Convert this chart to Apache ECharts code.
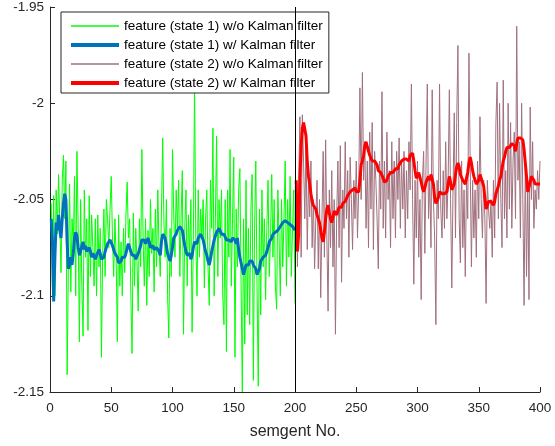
<!DOCTYPE html>
<html>
<head>
<meta charset="utf-8">
<script src="https://cdn.jsdelivr.net/npm/echarts@6/dist/echarts.min.js"></script>
<style>
  html, body { margin: 0; padding: 0; background: #fff; }
  #main { width: 555px; height: 446px; }
</style>
</head>
<body>
<div id="main"></div>
<script>
// feature (state 1) w/o Kalman filter, segments 1..200
var rawState1 = [
  -2.052, -2.095, -2.048, -2.100, -2.045, -2.068, -2.037, -2.062, -2.088, -2.040,
  -2.027, -2.060, -2.030, -2.141, -2.085, -2.042, -2.098, -2.060, -2.075, -2.038,
  -2.100, -2.025, -2.065, -2.124, -2.050, -2.095, -2.121, -2.045, -2.080, -2.060,
  -2.118, -2.048, -2.090, -2.058, -2.075, -2.095, -2.060, -2.100, -2.058, -2.085,
  -2.065, -2.132, -2.078, -2.055, -2.090, -2.050, -2.060, -2.075, -2.055, -2.038,
  -2.070, -2.090, -2.060, -2.080, -2.124, -2.058, -2.095, -2.072, -2.100, -2.065,
  -2.088, -2.058, -2.041, -2.070, -2.060, -2.100, -2.130, -2.057, -2.095, -2.065,
  -2.082, -2.108, -2.060, -2.085, -2.024, -2.070, -2.095, -2.060, -2.105, -2.066,
  -2.090, -2.050, -2.078, -2.065, -2.098, -2.055, -2.085, -2.045, -2.075, -2.090,
  -2.055, -2.018, -2.062, -2.080, -2.050, -2.100, -2.122, -2.065, -2.090, -2.024,
  -2.058, -2.080, -2.045, -2.065, -2.040, -2.090, -2.060, -2.035, -2.120, -2.065,
  -2.045, -2.095, -2.058, -2.080, -2.050, -2.119, -2.072, -1.990, -2.070, -2.100,
  -2.045, -2.080, -2.055, -2.070, -2.050, -2.096, -2.060, -2.045, -2.085, -2.105,
  -2.040, -2.065, -2.013, -2.100, -2.060, -2.017, -2.090, -2.050, -2.070, -2.045,
  -2.100, -2.115, -2.050, -2.129, -2.045, -2.080, -2.024, -2.095, -2.060, -2.028,
  -2.132, -2.055, -2.085, -2.045, -2.034, -2.095, -2.150, -2.060, -2.125, -2.040,
  -2.110, -2.065, -2.115, -2.055, -2.037, -2.144, -2.065, -2.030, -2.095, -2.147,
  -2.055, -2.110, -2.045, -2.085, -2.060, -2.102, -2.065, -2.040, -2.090, -2.070,
  -2.037, -2.080, -2.050, -2.095, -2.107, -2.045, -2.070, -2.100, -2.050, -2.085,
  -2.060, -2.030, -2.095, -2.050, -2.080, -2.038, -2.090, -2.065, -2.045, -2.104
];

// feature (state 1) w/ Kalman filter, segments 1..200
var kalmanState1 = [
  -2.060, -2.072, -2.103, -2.080, -2.062, -2.066, -2.058, -2.066, -2.070, -2.060,
  -2.052, -2.047, -2.050, -2.072, -2.086, -2.084, -2.080, -2.084, -2.078, -2.070,
  -2.067, -2.069, -2.075, -2.079, -2.077, -2.074, -2.072, -2.076, -2.074, -2.077,
  -2.078, -2.075, -2.077, -2.080, -2.078, -2.079, -2.081, -2.079, -2.078, -2.076,
  -2.078, -2.081, -2.082, -2.080, -2.077, -2.075, -2.073, -2.072, -2.071, -2.072,
  -2.074, -2.076, -2.078, -2.077, -2.080, -2.083, -2.084, -2.082, -2.080, -2.079,
  -2.080, -2.078, -2.075, -2.073, -2.074, -2.077, -2.079, -2.078, -2.079, -2.081,
  -2.080, -2.078, -2.077, -2.074, -2.071, -2.070, -2.071, -2.073, -2.072, -2.070,
  -2.072, -2.075, -2.074, -2.074, -2.076, -2.076, -2.075, -2.075, -2.077, -2.079,
  -2.072, -2.068, -2.067, -2.070, -2.074, -2.078, -2.080, -2.082, -2.079, -2.075,
  -2.070, -2.069, -2.068, -2.066, -2.066, -2.064, -2.063, -2.066, -2.070, -2.074,
  -2.077, -2.079, -2.080, -2.078, -2.081, -2.079, -2.075, -2.072, -2.071, -2.073,
  -2.070, -2.069, -2.068, -2.069, -2.071, -2.074, -2.077, -2.079, -2.082, -2.084,
  -2.081, -2.077, -2.074, -2.071, -2.069, -2.067, -2.066, -2.065, -2.066, -2.068,
  -2.069, -2.068, -2.069, -2.071, -2.070, -2.071, -2.070, -2.072, -2.070, -2.069,
  -2.071, -2.073, -2.070, -2.076, -2.080, -2.083, -2.086, -2.089, -2.088, -2.084,
  -2.083, -2.084, -2.082, -2.081, -2.082, -2.084, -2.083, -2.086, -2.089, -2.090,
  -2.086, -2.082, -2.081, -2.080, -2.080, -2.079, -2.077, -2.075, -2.072, -2.071,
  -2.070, -2.068, -2.068, -2.067, -2.066, -2.066, -2.065, -2.064, -2.063, -2.062,
  -2.062, -2.061, -2.060, -2.062, -2.061, -2.063, -2.062, -2.064, -2.065, -2.066
];

// feature (state 2) w/o Kalman filter, segments 201..400
var rawState2 = [
  -2.045, -2.085, -2.040, -2.007, -2.080, -2.006, -2.030, -2.060, -2.020, -2.076,
  -2.040, -2.059, -2.030, -2.075, -2.050, -2.086, -2.060, -2.040, -2.086, -2.050,
  -2.101, -2.060, -2.025, -2.080, -2.019, -2.070, -2.108, -2.045, -2.075, -2.035,
  -2.085, -2.050, -2.120, -2.060, -2.030, -2.075, -2.022, -2.093, -2.045, -2.065,
  -2.020, -2.060, -2.035, -2.080, -2.028, -2.050, -2.076, -2.040, -2.060, -2.030,
  -2.070, -2.045, -1.992, -2.050, -1.984, -2.040, -2.020, -2.065, -2.030, -2.075,
  -2.015, -2.055, -2.010, -2.076, -2.025, -2.040, -2.060, -2.086, -2.030, -2.055,
  -1.994, -2.065, -2.030, -2.070, -2.015, -2.050, -2.035, -2.075, -2.020, -2.060,
  -2.030, -2.070, -2.025, -2.050, -2.018, -2.065, -2.030, -2.055, -2.025, -2.070,
  -2.035, -2.060, -2.020, -2.045, -1.990, -2.050, -2.094, -2.040, -2.070, -2.030,
  -2.080, -2.050, -2.102, -2.040, -2.025, -2.078, -2.030, -1.990, -2.060, -2.040,
  -2.075, -1.993, -2.050, -2.070, -2.115, -2.040, -2.060, -1.990, -2.055, -2.070,
  -2.035, -2.065, -2.020, -2.060, -2.040, -1.993, -2.050, -2.096, -2.045, -2.005,
  -2.070, -2.010, -1.970, -2.060, -2.083, -2.030, -2.075, -2.045, -2.090, -2.040,
  -2.060, -1.974, -2.030, -2.085, -2.040, -2.070, -2.045, -2.080, -2.030, -2.060,
  -2.007, -2.050, -2.070, -2.040, -2.060, -2.104, -2.040, -2.055, -2.065, -2.050,
  -2.080, -2.040, -2.070, -2.010, -1.989, -2.060, -2.000, -2.050, -2.075, -1.988,
  -2.060, -2.035, -2.070, -2.000, -2.055, -2.010, -2.065, -2.030, -2.015, -2.060,
  -1.960, -2.040, -2.020, -2.070, -2.000, -2.050, -2.105, -2.030, -2.090, -2.040,
  -2.102, -2.002, -2.050, -2.020, -2.065, -2.045, -2.055, -2.035, -2.050, -2.030
];

// feature (state 2) w/ Kalman filter, segments 201..400
var kalmanState2 = [
  -2.040, -2.077, -2.068, -2.040, -2.022, -2.013, -2.010, -2.011, -2.017, -2.030,
  -2.038, -2.042, -2.047, -2.051, -2.053, -2.053, -2.055, -2.058, -2.060, -2.062,
  -2.066, -2.070, -2.072, -2.067, -2.060, -2.055, -2.053, -2.057, -2.060, -2.062,
  -2.059, -2.056, -2.055, -2.058, -2.056, -2.054, -2.055, -2.054, -2.052, -2.053,
  -2.051, -2.050, -2.048, -2.047, -2.046, -2.047, -2.045, -2.046, -2.044, -2.046,
  -2.047, -2.046, -2.040, -2.032, -2.030, -2.027, -2.022, -2.020, -2.021, -2.025,
  -2.027, -2.028, -2.030, -2.030, -2.030, -2.031, -2.032, -2.035, -2.034, -2.036,
  -2.037, -2.039, -2.041, -2.041, -2.040, -2.038, -2.037, -2.036, -2.035, -2.036,
  -2.035, -2.034, -2.033, -2.034, -2.032, -2.031, -2.030, -2.031, -2.029, -2.030,
  -2.029, -2.028, -2.030, -2.027, -2.027, -2.026, -2.030, -2.035, -2.039, -2.038,
  -2.036, -2.037, -2.041, -2.044, -2.046, -2.044, -2.041, -2.040, -2.038, -2.040,
  -2.037, -2.036, -2.042, -2.049, -2.052, -2.052, -2.049, -2.046, -2.045, -2.047,
  -2.048, -2.047, -2.048, -2.046, -2.042, -2.038, -2.041, -2.045, -2.046, -2.042,
  -2.037, -2.033, -2.031, -2.033, -2.037, -2.038, -2.040, -2.041, -2.042, -2.041,
  -2.036, -2.031, -2.028, -2.031, -2.035, -2.038, -2.040, -2.042, -2.043, -2.040,
  -2.037, -2.039, -2.041, -2.043, -2.049, -2.055, -2.053, -2.051, -2.050, -2.051,
  -2.052, -2.053, -2.051, -2.047, -2.045, -2.043, -2.040, -2.038, -2.034, -2.030,
  -2.028, -2.025, -2.023, -2.022, -2.023, -2.022, -2.021, -2.020, -2.022, -2.025,
  -2.021, -2.018, -2.017, -2.018, -2.018, -2.019, -2.024, -2.031, -2.038, -2.046,
  -2.046, -2.041, -2.038, -2.038, -2.040, -2.042, -2.041, -2.042, -2.043, -2.042
];

var yTicks = [-2.15, -2.1, -2.05, -2, -1.95];
var splitAt = 200;

function pairs(values, start) {
    var out = [];
    for (var i = 0; i < values.length; i++) out.push([start + i, values[i]]);
    return out;
}

var chart = echarts.init(document.getElementById('main'));
var font = '"Liberation Sans", Arial, sans-serif';

chart.setOption({
    animation: false,
    textStyle: { fontFamily: font },
    grid: { left: 50, right: 15, top: 2, bottom: 54 },
    legend: {
        orient: 'vertical',
        left: 61,
        top: 12,
        itemWidth: 48,
        itemHeight: 14,
        itemGap: 5,
        padding: [7, 6, 3, 8],
        backgroundColor: '#fff',
        borderColor: '#262626',
        borderWidth: 1,
        borderRadius: 0,
        itemStyle: { opacity: 0 },
        textStyle: { fontSize: 13.5, color: '#000', fontFamily: font },
        data: [
            { name: 'feature (state 1) w/o Kalman filter', lineStyle: { width: 1.5 } },
            { name: 'feature (state 1) w/ Kalman filter', lineStyle: { width: 4 } },
            { name: 'feature (state 2) w/o Kalman filter', lineStyle: { width: 1.5 } },
            { name: 'feature (state 2) w/ Kalman filter', lineStyle: { width: 4 } }
        ]
    },
    xAxis: {
        type: 'value',
        min: 0,
        max: 400,
        interval: 50,
        name: 'semgent No.',
        nameLocation: 'middle',
        nameGap: 32,
        nameTextStyle: { fontSize: 16, color: '#262626' },
        axisLine: { lineStyle: { color: '#262626' } },
        axisTick: { inside: true, length: 5, lineStyle: { color: '#262626' } },
        axisLabel: { fontSize: 13.5, color: '#262626', margin: 9 },
        splitLine: { show: false }
    },
    yAxis: {
        type: 'value',
        min: yTicks[0],
        max: yTicks[yTicks.length - 1],
        interval: 0.05,
        axisLine: { show: true, lineStyle: { color: '#262626' } },
        axisTick: { show: true, inside: true, length: 5, lineStyle: { color: '#262626' } },
        axisLabel: {
            fontSize: 13.5, color: '#262626', margin: 6,
            formatter: function (v) { return String(Math.round(v * 100) / 100); }
        },
        splitLine: { show: false }
    },
    series: [
        {
            name: 'feature (state 1) w/o Kalman filter',
            type: 'line',
            data: pairs(rawState1, 1),
            symbol: 'none',
            lineStyle: { color: '#00ff00', width: 1 },
            itemStyle: { color: '#00ff00' },
            z: 2
        },
        {
            name: 'feature (state 1) w/ Kalman filter',
            type: 'line',
            data: pairs(kalmanState1, 1),
            symbol: 'none',
            lineStyle: { color: '#0072BD', width: 3 },
            itemStyle: { color: '#0072BD' },
            z: 4
        },
        {
            name: 'feature (state 2) w/o Kalman filter',
            type: 'line',
            data: pairs(rawState2, 201),
            symbol: 'none',
            lineStyle: { color: '#A0707E', width: 1 },
            itemStyle: { color: '#A0707E' },
            z: 2,
            markLine: {
                silent: true,
                symbol: 'none',
                label: { show: false },
                lineStyle: { color: '#000', width: 1, type: 'solid' },
                data: [{ xAxis: splitAt }]
            }
        },
        {
            name: 'feature (state 2) w/ Kalman filter',
            type: 'line',
            data: pairs(kalmanState2, 201),
            symbol: 'none',
            lineStyle: { color: '#ff0000', width: 3 },
            itemStyle: { color: '#ff0000' },
            z: 4
        }
    ]
});
</script>
</body>
</html>
